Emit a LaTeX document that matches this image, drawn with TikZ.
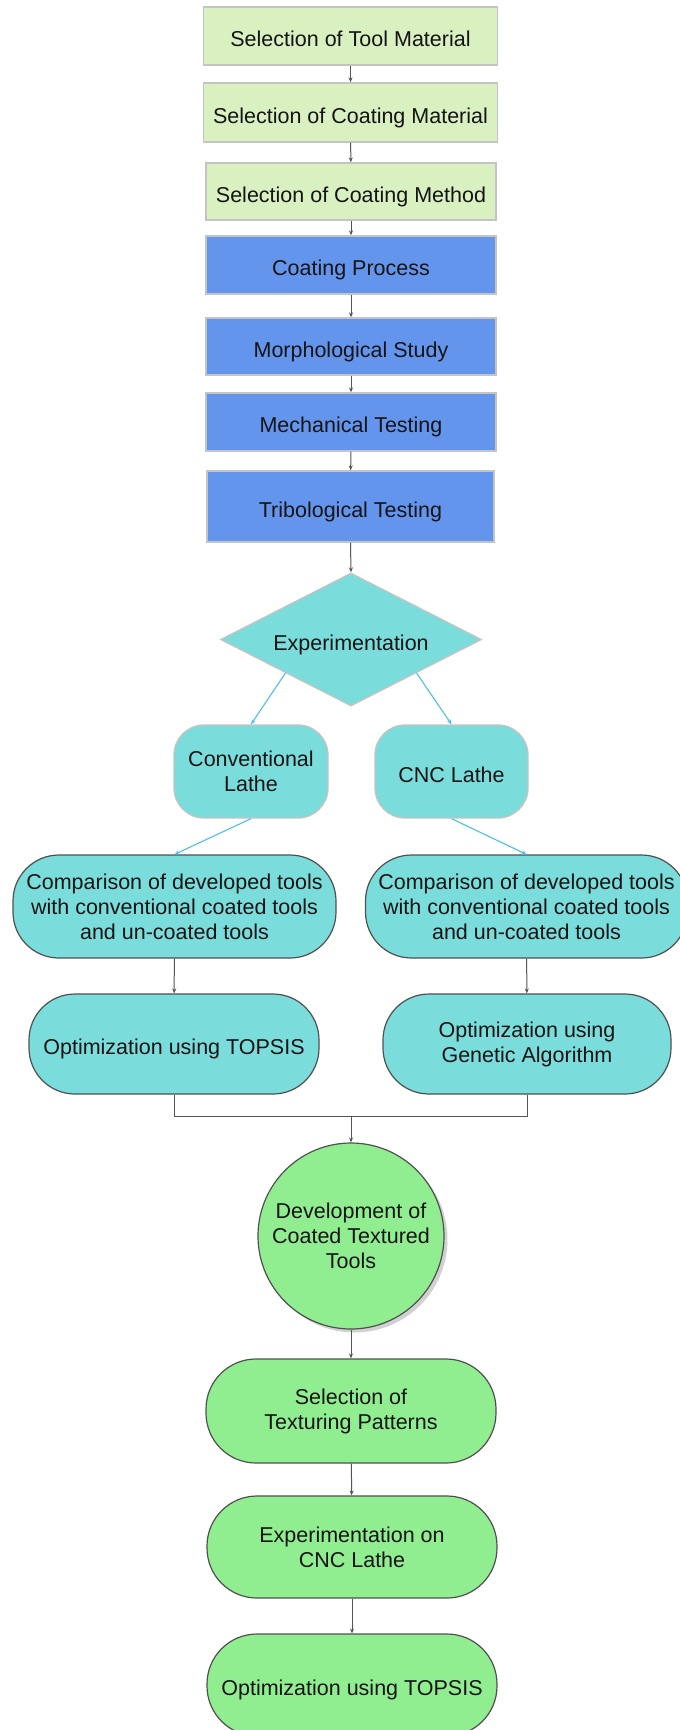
\documentclass[tikz,border=0pt]{standalone}
\usepackage{fontspec}
\setmainfont{Liberation Sans}
\usetikzlibrary{shapes.geometric,arrows.meta,calc}
\definecolor{lgreen}{HTML}{D9F0C1}
\definecolor{cblue}{HTML}{6495ED}
\definecolor{cyanf}{HTML}{7ADDDC}
\definecolor{greenf}{HTML}{90EE90}
\definecolor{lborder}{HTML}{C4C4C4}
\definecolor{dborder}{HTML}{505050}
\definecolor{arrc}{HTML}{555555}
\definecolor{skyarr}{HTML}{4DC0EA}
\begin{document}
\begin{tikzpicture}[x=1pt,y=-1pt,
  base/.style={font=\fontsize{21.5}{25}\selectfont, align=center, inner sep=0pt, text=black!92},
  oneline/.style={text height=21pt, text depth=0pt},
  sq/.style={base, oneline, rectangle, draw=lborder, line width=1.3pt},
  stad/.style={base, rectangle, draw=dborder, line width=1.2pt},
  ar/.style={draw=arrc, line width=1pt, -{Stealth[length=5pt,width=4pt]}},
  sar/.style={draw=skyarr, line width=1.1pt, -{Stealth[length=5pt,width=4pt]}}]
\useasboundingbox (0,0) rectangle (680,1730);
\clip (0,0) rectangle (680,1730);
\fill[white] (0,0) rectangle (680,1730);
% top green boxes
\node[sq, fill=lgreen, minimum width=294pt, minimum height=58pt] (b1) at (350.5,36) {Selection of Tool Material};
\node[sq, fill=lgreen, minimum width=294pt, minimum height=59pt] (b2) at (350.5,112.5) {Selection of Coating Material};
\node[sq, fill=lgreen, minimum width=290pt, minimum height=57pt] (b3) at (351,191.5) {Selection of Coating Method};
% blue boxes
\node[sq, fill=cblue, minimum width=290pt, minimum height=58pt] (cp) at (351,265) {Coating Process};
\node[sq, fill=cblue, minimum width=290pt, minimum height=57pt] (ms) at (351,346.5) {Morphological Study};
\node[sq, fill=cblue, minimum width=290pt, minimum height=58pt] (mt) at (351,422) {Mechanical Testing};
\node[sq, fill=cblue, minimum width=287pt, minimum height=71pt] (tt) at (350.5,506.5) {Tribological Testing};
% diamond
\node[base, oneline, diamond, shape aspect=2, draw=lborder, line width=1.3pt, fill=cyanf, minimum width=261pt, minimum height=133pt] (ex) at (351,639.5) {Experimentation};
% lathes
\node[base, rectangle, rounded corners=30pt, draw=lborder, line width=1.3pt, fill=cyanf, minimum width=154pt, minimum height=93pt] (cl) at (251,771.5) {Conventional\\Lathe};
\node[base, oneline, rectangle, rounded corners=30pt, draw=lborder, line width=1.3pt, fill=cyanf, minimum width=153pt, minimum height=93pt] (cnc) at (451.5,771.5) {CNC Lathe};
% comparisons
\node[stad, rounded corners=46pt, fill=cyanf, minimum width=323pt, minimum height=103pt] (c1) at (174.5,906.5) {Comparison of developed tools\\with conventional coated tools\\and un-coated tools};
\node[stad, rounded corners=46pt, fill=cyanf, minimum width=322pt, minimum height=103pt] (c2) at (526.5,906.5) {Comparison of developed tools\\with conventional coated tools\\and un-coated tools};
% optimizations
\node[stad, oneline, rounded corners=46pt, fill=cyanf, minimum width=290pt, minimum height=100pt] (o1) at (174,1044) {Optimization using TOPSIS};
\node[stad, rounded corners=46pt, fill=cyanf, minimum width=288pt, minimum height=100pt] (o2) at (527,1044) {Optimization using\\Genetic Algorithm};
% circle with shadow
\fill[black!18] (354.5,1239.5) circle[radius=93];
\node[base, circle, draw=dborder, line width=1.2pt, fill=greenf, minimum size=186pt] (dv) at (351,1236) {Development of\\Coated Textured\\Tools};
% green stadiums
\node[stad, rounded corners=50pt, fill=greenf, minimum width=290pt, minimum height=104pt] (tp) at (351,1411) {Selection of\\Texturing Patterns};
\node[stad, rounded corners=50pt, fill=greenf, minimum width=290pt, minimum height=102pt] (ec) at (352,1547) {Experimentation on\\CNC Lathe};
\node[stad, oneline, rounded corners=50pt, fill=greenf, minimum width=290pt, minimum height=102pt] (ot) at (352,1685) {Optimization using TOPSIS};
% connectors
\draw[ar] (b1) -- (b2);
\draw[ar] (b2) -- (b3);
\draw[ar] (b3) -- (cp);
\draw[ar] (cp) -- (ms);
\draw[ar] (ms) -- (mt);
\draw[ar] (mt) -- (tt);
\draw[ar] (tt.south) -- (ex.north);
\draw[sar] ($(ex.west)!0.5!(ex.south)$) -- (cl.north);
\draw[sar] ($(ex.east)!0.5!(ex.south)$) -- (cnc.north);
\draw[sar] (cl.south) -- (c1.north);
\draw[sar] (cnc.south) -- (c2.north);
\draw[ar] (c1) -- (o1);
\draw[ar] (c2) -- (o2);
\coordinate (cj) at (351,1116);
\draw[draw=arrc, line width=1pt] (o1.south) |- (cj) -| (o2.south);
\draw[ar] (cj) -- (dv.north);
\draw[ar] (dv.south) -- (tp.north);
\draw[ar] (tp) -- (ec);
\draw[ar] (ec) -- (ot);
\end{tikzpicture}
\end{document}
